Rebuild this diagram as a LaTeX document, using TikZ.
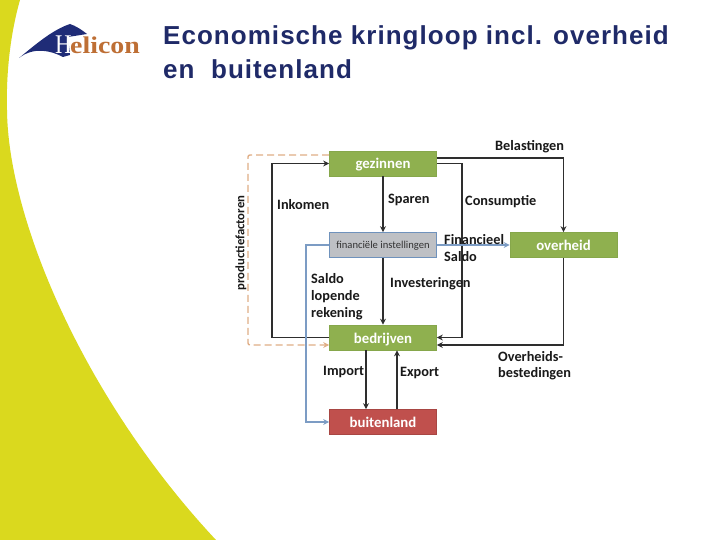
\documentclass[tikz,border=0pt]{standalone}
\usepackage{fontspec}
\setmainfont{Liberation Sans}[LetterSpace=4]
\newfontfamily\lblfont{Carlito}
\newfontfamily\logofont{Liberation Serif}
\usetikzlibrary{arrows.meta}
\definecolor{sideyellow}{HTML}{DAD91E}
\definecolor{boxgreen}{HTML}{8FB04F}
\definecolor{boxgreenb}{HTML}{86A74B}
\definecolor{boxred}{HTML}{C0504D}
\definecolor{boxredb}{HTML}{A84643}
\definecolor{boxgrey}{HTML}{BEC0C4}
\definecolor{boxblue}{HTML}{6F92BC}
\definecolor{flowblue}{HTML}{7C9CC4}
\definecolor{dashorange}{HTML}{E0AE86}
\definecolor{linedark}{HTML}{2E2E2E}
\definecolor{logoblue}{HTML}{1F2C77}
\definecolor{logoorange}{HTML}{BE6F35}
\definecolor{titlenavy}{HTML}{1F2A68}
\tikzset{
  x=1pt,y=-1pt,
  flowbox/.style={minimum width=107pt,minimum height=25pt,inner sep=0pt,line width=0.7pt,text=white,text height=11pt,text depth=0pt,font=\lblfont\bfseries\fontsize{14.8}{15}\selectfont},
  greenbox/.style={flowbox,fill=boxgreen,draw=boxgreenb},
  redbox/.style={flowbox,fill=boxred,draw=boxredb},
  greybox/.style={flowbox,fill=boxgrey,draw=boxblue,text=black!80,text height=7pt,text depth=0pt,font=\lblfont\fontsize{10.6}{11}\selectfont},
  flow/.style={draw=linedark,line width=1.5pt,-{Stealth[length=6pt,width=6pt]}},
  flowblueline/.style={draw=flowblue,line width=1.2pt,-{Stealth[length=6pt,width=6pt]}},
  flowdash/.style={draw=dashorange,line width=1.4pt,rounded corners=2pt,dash pattern=on 7pt off 4pt,-{Stealth[length=6pt,width=6pt]}},
  lbl/.style={inner sep=0pt,anchor=west,text=black!90,font=\lblfont\bfseries\fontsize{14.3}{15}\selectfont,align=left},
  titletext/.style={inner sep=0pt,anchor=base west,text=titlenavy,font=\bfseries\fontsize{26}{34}\selectfont,align=left},
}
\begin{document}
\begin{tikzpicture}
\useasboundingbox (0,0) rectangle (720,540);
\fill[white] (0,0) rectangle (720,540);
% yellow side band
\fill[sideyellow] (0,0) -- (20,0) .. controls (10,35) and (6,75) .. (7,110)
  .. controls (8,220) and (85,400) .. (216,540) -- (0,540) -- cycle;
% logo
\fill[logoblue] (19,58) .. controls (35,45) and (52,30) .. (70,24)
  .. controls (76,26) and (82,30) .. (87,34) -- (68,37) -- (70,55) -- (63,57)
  .. controls (50,50) and (33,47) .. cycle;
\node[inner sep=0pt,anchor=base west,text=white,xscale=0.85,font=\logofont\fontsize{27}{27}\selectfont] (logoh) at (55,54) {H};
\node[inner sep=0pt,anchor=base west,text=logoorange,xscale=1.16,font=\logofont\bfseries\fontsize{24}{24}\selectfont] (logot) at (70,54) {elicon};
% title
\node[titletext] (title1) at (163,45) {Economische kringloop incl. overheid};
\node[titletext] (title2) at (163,79) {en\ \ buitenland};
% boxes
\node[greenbox] (gez) at (383,163.5) {gezinnen};
\node[greybox] (fin) at (383,245) {financiële instellingen};
\node[greenbox] (ovh) at (563.5,245) {overheid};
\node[greenbox] (bed) at (383,337.5) {bedrijven};
\node[redbox] (bui) at (383,422) {buitenland};
% connectors
\draw[flowdash] (gez.west |- 0,155) -| (248,345) -- (bed.west |- 0,345);
\draw[flow] (bed.west) -- (272,337.5) |- (gez.west);
\draw[flow] (gez) -- (fin);
\draw[flow] (fin) -- (bed);
\draw[flow] (gez.east |- 0,158) -| (ovh.north);
\draw[flow] (gez.east) -- (462,163.5) |- (bed.east);
\draw[flow] (ovh.south) |- (bed.east |- 0,345);
\draw[flow] (bed.south -| 366,0) -- (bui.north -| 366,0);
\draw[flow] (bui.north -| 397,0) -- (bed.south -| 397,0);
\draw[flowblueline] (fin.west) -- (306,245) |- (bui.west);
\draw[flowblueline] (fin.east) -- (ovh.west);
% labels
\node[lbl] (l1) at (495,146.5) {Belastingen};
\node[lbl] (l2) at (277,204.5) {Inkomen};
\node[lbl] (l3) at (388,199.5) {Sparen};
\node[lbl] (l4) at (465,201.5) {Consumptie};
\node[lbl] (l5) at (444,240) {Financieel};
\node[lbl] (l6) at (444,257) {Saldo};
\node[lbl] (l7) at (390,283.5) {Investeringen};
\node[lbl] (l8) at (311,279) {Saldo};
\node[lbl] (l9) at (311,296.5) {lopende};
\node[lbl] (l10) at (311,314) {rekening};
\node[lbl] (l11) at (323,371.5) {Import};
\node[lbl] (l12) at (400,372.5) {Export};
\node[lbl] (l13) at (498,356.5) {Overheids-};
\node[lbl] (l14) at (498,373.5) {bestedingen};
\node[lbl,rotate=90,anchor=center,font=\lblfont\bfseries\fontsize{12.7}{13}\selectfont] (l15) at (241,243) {productiefactoren};
\end{tikzpicture}
\end{document}
